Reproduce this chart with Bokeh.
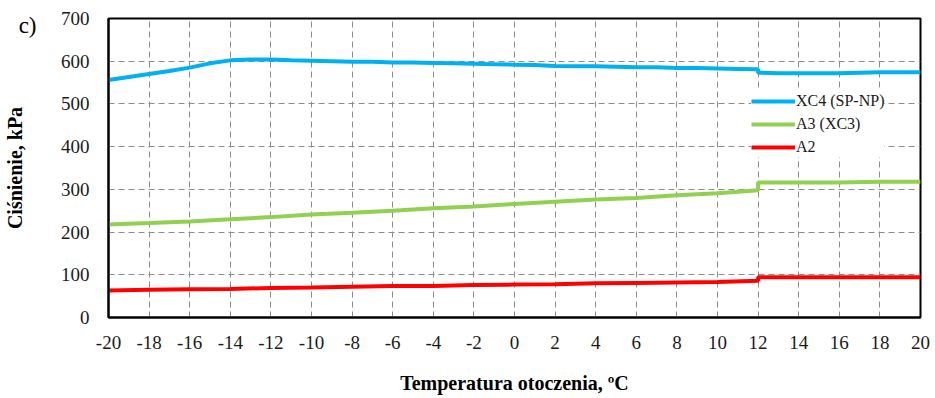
from bokeh.plotting import figure
from bokeh.models import FixedTicker, Legend, LegendItem, Range1d, LinearAxis
from bokeh.embed import file_html
from bokeh.resources import INLINE

# ---- data ----
xc4_t = [-20, -19, -18, -17, -16, -15, -14, -13, -12, -11, -10, -9, -8, -7, -6, -5, -4, -3,
         -2, -1, 0, 1, 2, 3, 4, 5, 6, 7, 8, 9, 10, 11, 12, 12, 13, 14, 15, 16, 17, 18, 19, 20]
xc4_p = [556, 563, 570, 577, 585, 595, 602, 604, 604, 602, 601, 600, 599, 599, 597, 597, 596, 595,
         594, 593, 592, 591, 589, 588, 588, 587, 586, 586, 584, 584, 583, 582, 581, 573, 572, 572,
         572, 572, 573, 574, 574, 574]

a3_t = [-20, -18, -16, -14, -12, -10, -8, -6, -4, -2, 0, 2, 4, 6, 8, 10, 12, 12, 14, 16, 18, 20]
a3_p = [218, 221, 225, 230, 235, 241, 245, 250, 256, 260, 266, 271, 276, 280, 286, 291, 298,
        316, 316, 316, 318, 318]

a2_t = [-20, -18, -16, -14, -12, -10, -8, -6, -4, -2, 0, 2, 4, 6, 8, 10, 12, 12, 14, 16, 18, 20]
a2_p = [63, 65, 66, 67, 69, 70, 72, 74, 74, 76, 77, 78, 80, 81, 82, 83, 86, 94, 94, 94, 94, 94]

series_names = ["XC4 (SP-NP)", "A3 (XC3)", "A2"]
series_colors = ["#00B0F0", "#92D050", "#FF0000"]

x_ticks = list(range(-20, 21, 2))
x_tick_labels = [str(v) for v in x_ticks]
y_ticks = list(range(0, 701, 100))

x_title = "Temperatura otoczenia, ºC"
y_title = "Ciśnienie, kPa"
panel_tag = "c)"
panel_tag_level = 684  # height on the pressure scale where the panel tag sits

FONT = "Liberation Serif"

xticker = FixedTicker(ticks=x_ticks)
yticker = FixedTicker(ticks=y_ticks)

p = figure(width=930, height=396, output_backend="svg", toolbar_location=None,
           x_range=Range1d(-20, 20), y_range=Range1d(0, 700),
           min_border_left=105, min_border_right=10, min_border_top=18, min_border_bottom=76)

p.background_fill_color = None
p.border_fill_color = "white"
p.outline_line_color = "black"
p.outline_line_width = 2

tag_axis = LinearAxis(ticker=FixedTicker(ticks=[panel_tag_level]),
                      major_label_overrides={panel_tag_level: panel_tag})
p.add_layout(tag_axis, "left")

for ax in (p.xaxis[0], p.yaxis[0], tag_axis):
    ax.axis_line_color = "black"
    ax.axis_line_width = 2
    ax.major_tick_line_color = None
    ax.minor_tick_line_color = None
    ax.major_tick_out = 0
    ax.major_tick_in = 0
    ax.minor_tick_out = 0
    ax.minor_tick_in = 0
    ax.major_label_text_font = FONT
    ax.major_label_text_font_size = "19px"
    ax.major_label_text_color = "#1a1a1a"
    ax.axis_label_text_font = FONT
    ax.axis_label_text_font_size = "20px"
    ax.axis_label_text_font_style = "bold"
    ax.axis_label_text_color = "black"

tag_axis.axis_line_color = None
tag_axis.major_label_text_font_size = "23px"
tag_axis.major_label_text_color = "black"
tag_axis.major_label_standoff = 21
tag_axis.axis_label = y_title
tag_axis.axis_label_standoff = -10

p.xaxis.ticker = xticker
p.xaxis.major_label_overrides = {t: l for t, l in zip(x_ticks, x_tick_labels)}
p.yaxis[0].ticker = yticker
p.xaxis.axis_label = x_title
p.xaxis.major_label_standoff = 18
p.xaxis.axis_label_standoff = 20
p.yaxis[0].major_label_standoff = 19

p.xgrid[0].ticker = xticker
p.ygrid[0].ticker = yticker
for g in (p.xgrid[0], p.ygrid[0]):
    g.grid_line_color = "#8c8c8c"
    g.grid_line_alpha = 1.0
    g.grid_line_width = 1
    g.grid_line_dash = "6 4"

r1 = p.line(xc4_t, xc4_p, line_color=series_colors[0], line_width=4)
r2 = p.line(a3_t, a3_p, line_color=series_colors[1], line_width=4)
r3 = p.line(a2_t, a2_p, line_color=series_colors[2], line_width=4)

legend = Legend(items=[LegendItem(label=series_names[0], renderers=[r1]),
                       LegendItem(label=series_names[1], renderers=[r2]),
                       LegendItem(label=series_names[2], renderers=[r3])],
                location=(643, 160))
legend.border_line_color = None
legend.background_fill_color = "white"
legend.background_fill_alpha = 1.0
legend.padding = 0
legend.margin = 0
legend.spacing = 3
legend.glyph_width = 44
legend.glyph_height = 20
legend.label_height = 20
legend.label_standoff = 1
legend.label_text_font = FONT
legend.label_text_font_size = "16px"
legend.label_text_color = "#1a1a1a"
p.add_layout(legend, "center")

open("out.html", "w").write(file_html(p, INLINE))
